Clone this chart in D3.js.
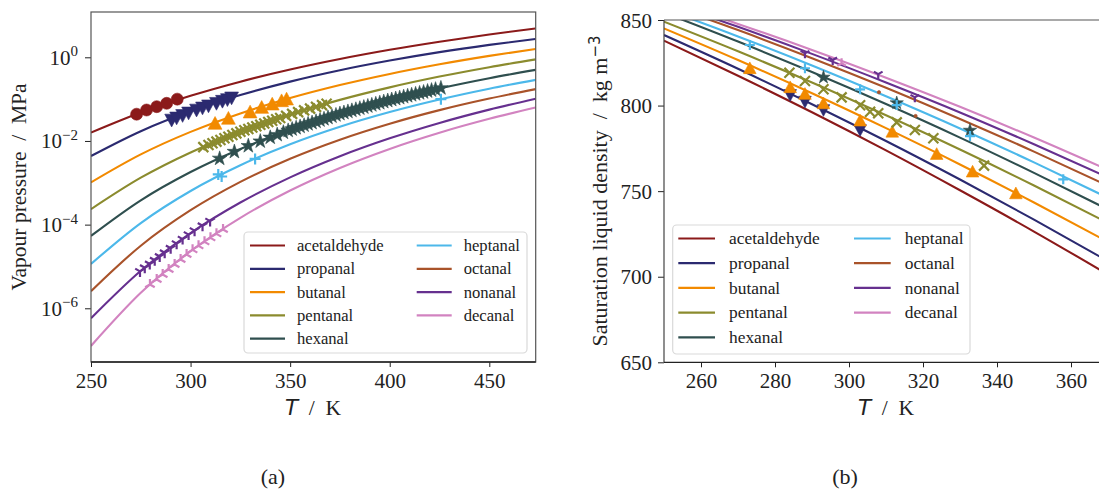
<!DOCTYPE html>
<html><head><meta charset="utf-8">
<script src="https://cdn.jsdelivr.net/npm/d3@7"></script>
<style>
body{margin:0;background:#fff;}
svg{display:block;}
text{font-family:"Liberation Serif","DejaVu Serif",serif;fill:#222;}
</style></head>
<body><svg id="fig" width="1099" height="489"></svg>
<script>
// ---------------- DATA ----------------
const compounds = ["acetaldehyde","propanal","butanal","pentanal","hexanal","heptanal","octanal","nonanal","decanal"];
const colors = ["#8b1a1a","#2b2a70","#f28a00","#8b8b2e","#2f4f4f","#4cb8ea","#a9532a","#66308f","#d283c0"];

// (a) model curves: log10(p / MPa) at these temperatures
const curveT = [250,275,300,325,350,375,400,425,450,473.3];
const vpAcetaldehyde = [-1.80,-1.32,-0.92,-0.582,-0.292,-0.041,0.179,0.373,0.546,0.69];
const vpPropanal     = [-2.36,-1.766,-1.291,-0.903,-0.581,-0.309,-0.078,0.123,0.297,0.44];
const vpButanal      = [-2.99,-2.321,-1.783,-1.342,-0.975,-0.664,-0.398,-0.167,0.034,0.20];
const vpPentanal     = [-3.63,-2.878,-2.274,-1.779,-1.367,-1.018,-0.719,-0.461,-0.236,-0.05];
const vpHexanal      = [-4.27,-3.419,-2.742,-2.191,-1.734,-1.351,-1.025,-0.744,-0.500,-0.30];
const vpHeptanal     = [-4.94,-3.963,-3.196,-2.581,-2.077,-1.659,-1.308,-1.008,-0.750,-0.54];
const vpOctanal      = [-5.59,-4.504,-3.655,-2.978,-2.426,-1.970,-1.588,-1.263,-0.986,-0.76];
const vpNonanal      = [-6.24,-5.104,-4.202,-3.472,-2.870,-2.365,-1.937,-1.569,-1.251,-0.99];
const vpDecanal      = [-6.90,-5.630,-4.635,-3.837,-3.185,-2.645,-2.190,-1.803,-1.471,-1.20];

// (a) experimental points: [T / K, log10(p / MPa)]
const expVpAcetaldehyde = [[272.9,-1.36],[277.9,-1.26],[283,-1.18],[288,-1.10],[293.3,-1.00]];
const expVpPropanal = [[290.5,-1.50],[293,-1.45],[296,-1.39],[299,-1.33],[303,-1.26],[306,-1.21],[309,-1.16],[313,-1.10],[316,-1.05],[318.5,-1.01],[320.6,-0.97]];
const expVpButanal = [[312.3,-1.58],[319.0,-1.46],[329.9,-1.31],[335.7,-1.20],[341.0,-1.12],[345.7,-1.04],[348.2,-1.00]];
const expVpPentanal = [[306.4,-2.147],[309,-2.095],[311,-2.056],[313,-2.016],[315,-1.977],[317,-1.937],[319,-1.897],[321,-1.858],[323,-1.818],[325,-1.779],[327,-1.746],[329,-1.713],[331,-1.680],[333,-1.647],[335,-1.614],[337,-1.581],[339,-1.548],[341,-1.515],[343,-1.482],[345,-1.449],[348,-1.400],[351,-1.353],[354,-1.311],[357,-1.269],[360,-1.227],[363,-1.185],[366,-1.143],[368.3,-1.111]];
const expVpHexanal = [[314.6,-2.420],[322,-2.257],[329,-2.118],[335,-2.008],[340,-1.917],[343.5,-1.853],[346.6,-1.796],[349,-1.752],[351,-1.719],[353,-1.688],[355,-1.657],[357,-1.627],[359,-1.596],[361,-1.566],[363,-1.535],[365,-1.504],[367,-1.474],[369,-1.443],[371,-1.412],[373,-1.382],[375,-1.351],[377,-1.325],[379,-1.299],[381,-1.273],[383,-1.247],[385,-1.221],[387,-1.195],[389,-1.168],[391,-1.142],[393,-1.116],[395,-1.090],[397,-1.064],[399,-1.038],[401,-1.014],[403,-0.991],[405,-0.969],[407,-0.946],[409,-0.924],[411,-0.901],[413,-0.879],[415,-0.856],[417,-0.834],[419,-0.811],[421,-0.789],[423,-0.766],[425.7,-0.736]];
const expVpHeptanal = [[313.9,-2.80],[315.6,-2.85],[332.4,-2.43],[425.7,-1.00]];
const expVpOctanal = [];
const expVpNonanal = [[274.6,-5.118],[277,-5.032],[279.5,-4.941],[282,-4.851],[284.5,-4.761],[287,-4.671],[290,-4.563],[293,-4.455],[296,-4.346],[299,-4.238],[302,-4.144],[306,-4.027],[309.8,-3.916]];
const expVpDecanal = [[279.6,-5.43],[283,-5.312],[286,-5.192],[289,-5.073],[292,-4.953],[295,-4.834],[298,-4.715],[301,-4.603],[304,-4.507],[307,-4.412],[310,-4.316],[313,-4.220],[316.3,-4.115]];

// (b) model curves: saturated liquid density / kg m^-3
const densT = [250,270,290,310,330,350,370];
const rhoAcetaldehyde = [837.9,817.4,796.1,773.8,750.5,726.4,701.3];
const rhoPropanal     = [841.2,821.5,800.8,779.3,756.8,733.4,709.1];
const rhoButanal      = [845.1,826.6,807.2,786.8,765.6,743.4,720.3];
const rhoPentanal     = [849.0,831.7,813.5,794.3,774.3,753.3,731.4];
const rhoHexanal      = [854.3,837.4,819.6,800.9,781.3,760.7,739.3];
const rhoHeptanal     = [856.5,840.4,823.4,805.4,786.6,766.8,746.1];
const rhoOctanal      = [859.5,844.1,827.7,810.4,792.2,773.1,753.1];
const rhoNonanal      = [860.8,846.0,830.2,813.5,796.0,777.4,758.0];
const rhoDecanal      = [862.0,847.7,832.5,816.3,799.3,781.3,762.4];

// (b) experimental points: [T / K, rho / kg m^-3]
const expRhoAcetaldehyde = [];
const expRhoPropanal = [[284.1,806.2],[288.1,802.3],[293.1,797.4],[303,785.7]];
const expRhoButanal = [[273.2,821.8],[284.1,810.7],[288.1,806.8],[293.1,801.3],[303,791.2],[311.7,784.7],[323.7,771.7],[333.4,761.4],[345.1,748.7]];
const expRhoPentanal = [[283.9,819.2],[288.1,814.4],[293.1,809.5],[298,804.8],[303,800.2],[305.7,796.4],[307.9,795.5],[312.9,790.2],[317.8,785.7],[322.8,780.9],[336.5,764.9]];
const expRhoHexanal = [[293.1,816.5],[312.9,801.5],[332.7,785.5]];
const expRhoHeptanal = [[273.2,835.4],[288.1,821.8],[303,809.5],[312.9,800.3],[332.7,782.2],[357.9,756.9]];
const expRhoOctanal = [[308.1,807.8],[318,793.9]];
const expRhoNonanal = [[288.1,830.5],[295.6,826.6],[307.9,818.4],[317.8,804.8]];
const expRhoDecanal = [[298,824.7]];

const vpCurves = [vpAcetaldehyde,vpPropanal,vpButanal,vpPentanal,vpHexanal,vpHeptanal,vpOctanal,vpNonanal,vpDecanal];
const vpExp = [expVpAcetaldehyde,expVpPropanal,expVpButanal,expVpPentanal,expVpHexanal,expVpHeptanal,expVpOctanal,expVpNonanal,expVpDecanal];
const rhoCurves = [rhoAcetaldehyde,rhoPropanal,rhoButanal,rhoPentanal,rhoHexanal,rhoHeptanal,rhoOctanal,rhoNonanal,rhoDecanal];
const rhoExp = [expRhoAcetaldehyde,expRhoPropanal,expRhoButanal,expRhoPentanal,expRhoHexanal,expRhoHeptanal,expRhoOctanal,expRhoNonanal,expRhoDecanal];
const markerKinds = ["circle","tridown","triangleup","x","star","plus","dot","ydown","yup"];
const vpTicks = [1,1e-2,1e-4,1e-6];
const rhoTicks = [650,700,750,800,850];
const xTicksA = [250,300,350,400,450];
const xTicksB = [260,280,300,320,340,360];

// ---------------- DRAW ----------------
const svg = d3.select("#fig");
const SERIF = '"Liberation Serif","DejaVu Serif",serif';
const FS = 21;
const SP = "\u2002";

function markerPath(kind, s){
  const r = s/2;
  switch(kind){
    case "circle": return d3.symbol(d3.symbolCircle, Math.PI*r*r)();
    case "dot": return d3.symbol(d3.symbolCircle, Math.PI*r*r*0.45)();
    case "triangleup": { const h=r*1.15; return `M0,${-h}L${h},${h*0.85}L${-h},${h*0.85}Z`; }
    case "tridown": { const h=r*1.15; return `M0,${h}L${h},${-h*0.85}L${-h},${-h*0.85}Z`; }
    case "star": return d3.symbol(d3.symbolStar, s*s*0.55)();
    case "x": return `M${-r},${-r}L${r},${r}M${-r},${r}L${r},${-r}`;
    case "plus": return `M${-r},0L${r},0M0,${-r}L0,${r}`;
    case "ydown": return `M0,0L0,${r}M0,0L${-0.87*r},${-0.5*r}M0,0L${0.87*r},${-0.5*r}`;
    case "yup": return `M0,0L0,${-r}M0,0L${-0.87*r},${0.5*r}M0,0L${0.87*r},${0.5*r}`;
  }
}
const filledKinds = new Set(["circle","dot","triangleup","tridown","star"]);

function drawMarkers(g, pts, kind, color, sx, sy, s){
  g.selectAll(null).data(pts).enter().append("path")
    .attr("transform", d=>`translate(${sx(d[0])},${sy(d[1])})`)
    .attr("d", markerPath(kind, s))
    .attr("fill", filledKinds.has(kind)? color : "none")
    .attr("stroke", color)
    .attr("stroke-width", filledKinds.has(kind)? 0.6 : 2.2)
    .attr("stroke-linecap","butt");
}

function styleAxis(g){
  g.attr("font-family", SERIF).attr("font-size", FS);
  g.selectAll("text").style("font-family",SERIF).style("font-size",FS+"px").attr("fill","#222");
  g.selectAll("line").attr("stroke","#222");
  g.select(".domain").remove();
}

function legend(g, x, y, w, h, rowH, lineX0, lineX1, textX, col2Dx, fs){
  g.append("rect").attr("x",x).attr("y",y).attr("width",w).attr("height",h).attr("rx",4)
    .attr("fill","#fff").attr("fill-opacity",0.85).attr("stroke","#d9d9d9").attr("stroke-width",1.2);
  compounds.forEach((c,i)=>{
    const col = i<5?0:1, row = i<5?i:i-5;
    const yy = y + 13.5 + row*rowH;
    const dx = col*col2Dx;
    g.append("line").attr("x1",lineX0+dx).attr("x2",lineX1+dx).attr("y1",yy).attr("y2",yy)
      .attr("stroke",colors[i]).attr("stroke-width",2.2);
    g.append("text").attr("x",textX+dx).attr("y",yy).attr("dy","0.33em")
      .style("font-size",fs+"px").text(c);
  });
}

// ---- Panel (a)
const xA = d3.scaleLinear([250,473.3],[91,535.7]);
const yA = d3.scaleLog([Math.pow(10,-7.284), Math.pow(10,1.083)],[362,12]);
const gA = svg.append("g");
svg.append("clipPath").attr("id","clipA").append("rect").attr("x",91).attr("y",12).attr("width",444.7).attr("height",350);
const lineA = d3.line().x(d=>xA(d[0])).y(d=>yA(Math.pow(10,d[1]))).curve(d3.curveMonotoneX);
const plotA = gA.append("g").attr("clip-path","url(#clipA)");
vpCurves.forEach((arr,i)=>{
  plotA.append("path").datum(curveT.map((t,k)=>[t,arr[k]])).attr("d",lineA)
    .attr("fill","none").attr("stroke",colors[i]).attr("stroke-width",2.1);
});
const yAlog = (d)=>yA(Math.pow(10,d));
const markerSizeA = [12,12,12,10,11,11,6,11,11];
vpExp.forEach((pts,i)=>{
  drawMarkers(plotA, pts, markerKinds[i], colors[i], xA, yAlog, markerSizeA[i]);
});
const axXA = gA.append("g").attr("transform","translate(0,362)")
  .call(d3.axisBottom(xA).tickValues(xTicksA).tickSize(5).tickPadding(6).tickFormat(d3.format("d")));
styleAxis(axXA);
const axYA = gA.append("g").attr("transform","translate(91,0)")
  .call(d3.axisLeft(yA).tickValues(vpTicks).tickSize(6).tickPadding(7).tickFormat(()=>""));
styleAxis(axYA);
axYA.selectAll(".tick text").each(function(d){
  const t = d3.select(this);
  const e = Math.round(Math.log10(d));
  t.text("");
  t.append("tspan").text("10");
  t.append("tspan").attr("dy","-0.55em").style("font-size","15px").text(e<0? "\u2212"+Math.abs(e) : String(e));
});
gA.append("rect").attr("x",91).attr("y",12).attr("width",444.7).attr("height",350)
  .attr("fill","none").attr("stroke","#555").attr("stroke-width",1.2);
gA.append("line").attr("x1",91).attr("x2",535.7).attr("y1",362).attr("y2",362).attr("stroke","#222").attr("stroke-width",1.3);
gA.append("text").attr("transform","translate(26,187) rotate(-90)").attr("text-anchor","middle")
  .style("font-size","21.5px").text("Vapour pressure"+SP+"/"+SP+"MPa");
const tA = gA.append("text").attr("x",313).attr("y",415).attr("text-anchor","middle").style("font-size","21.5px");
tA.append("tspan").style("font-family",'"DejaVu Sans",sans-serif').style("font-style","italic").text("T");
tA.append("tspan").text(SP+"/"+SP+"K");
gA.append("text").attr("x",273).attr("y",484).attr("text-anchor","middle").style("font-size","22px").text("(a)");
legend(gA, 244, 232, 283, 121, 23.3, 250, 285, 297, 166.7, 16.6);

// ---- Panel (b)
const xB = d3.scaleLinear([250,370],[664,1108]);
const yB = d3.scaleLinear([650,850],[362.3,20]);
const gB = svg.append("g");
svg.append("clipPath").attr("id","clipB").append("rect").attr("x",664).attr("y",20).attr("width",444).attr("height",342.3);
const lineB = d3.line().x(d=>xB(d[0])).y(d=>yB(d[1])).curve(d3.curveMonotoneX);
const plotB = gB.append("g").attr("clip-path","url(#clipB)");
rhoCurves.forEach((arr,i)=>{
  plotB.append("path").datum(densT.map((t,k)=>[t,arr[k]])).attr("d",lineB)
    .attr("fill","none").attr("stroke",colors[i]).attr("stroke-width",2.1);
});
const markerSizeB = [11,11,11,10,10,10,5,10,10];
rhoExp.forEach((pts,i)=>{
  drawMarkers(plotB, pts, markerKinds[i], colors[i], xB, yB, markerSizeB[i]);
});
const axXB = gB.append("g").attr("transform","translate(0,362.3)")
  .call(d3.axisBottom(xB).tickValues(xTicksB).tickSize(5).tickPadding(6).tickFormat(d3.format("d")));
styleAxis(axXB);
const axYB = gB.append("g").attr("transform","translate(664,0)")
  .call(d3.axisLeft(yB).tickValues(rhoTicks).tickSize(6).tickPadding(6).tickFormat(d3.format("d")));
styleAxis(axYB);
axYB.selectAll(".tick text").attr("dy","0.34em");
gB.append("line").attr("x1",664).attr("x2",1099).attr("y1",20).attr("y2",20).attr("stroke","#555").attr("stroke-width",1.2);
gB.append("line").attr("x1",664).attr("x2",664).attr("y1",20).attr("y2",362.3).attr("stroke","#444").attr("stroke-width",1.2);
gB.append("line").attr("x1",664).attr("x2",1099).attr("y1",362.3).attr("y2",362.3).attr("stroke","#222").attr("stroke-width",1.3);
const yLabB = gB.append("text").attr("transform","translate(607,191) rotate(-90)").attr("text-anchor","middle").style("font-size","22px");
yLabB.append("tspan").text("Saturation liquid density"+SP+"/"+SP+"kg m");
yLabB.append("tspan").attr("dy","-0.5em").style("font-family",'"DejaVu Sans",sans-serif').style("font-size","15px").text("\u22123");
const tB = gB.append("text").attr("x",886).attr("y",415).attr("text-anchor","middle").style("font-size","21.5px");
tB.append("tspan").style("font-family",'"DejaVu Sans",sans-serif').style("font-style","italic").text("T");
tB.append("tspan").text(SP+"/"+SP+"K");
gB.append("text").attr("x",845).attr("y",484).attr("text-anchor","middle").style("font-size","22px").text("(b)");
legend(gB, 672.7, 225, 297.3, 129, 24.7, 678.3, 715, 729, 175.7, 17.4);
</script></body></html>
